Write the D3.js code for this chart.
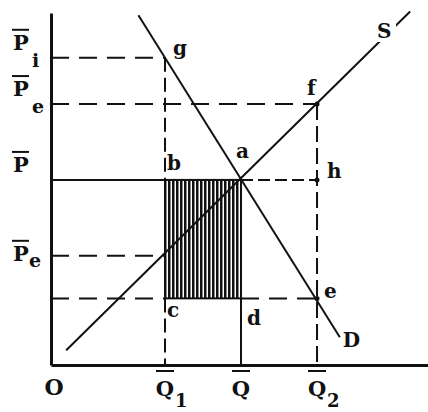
<!DOCTYPE html>
<html><head><meta charset="utf-8">
<script src="https://cdn.jsdelivr.net/npm/d3@7"></script>
<style>html,body{margin:0;padding:0;background:#fff;}svg{display:block;}</style>
</head><body>
<script>
// ---- data (abstract units) ----
const quantities = {Q1: 3, Q: 5, Q2: 7};
const prices = {Pi: 8.3, PeHigh: 7.05, P: 5, PeLow: 2.95, Pc: 1.8};
const demandLine = [[2.3, 9.45], [7.6, 0.75]];
const supplyLine = [[0.4, 0.4], [9.45, 9.55]];
const qLabels = [{q: 0, text: "O", bar: false, sub: ""}, {q: 3, text: "Q", bar: true, sub: "1"}, {q: 5, text: "Q", bar: true, sub: ""}, {q: 7, text: "Q", bar: true, sub: "2"}];
const pLabels = [{p: 8.3, sub: "i"}, {p: 7.05, sub: "e"}, {p: 5, sub: ""}, {p: 2.95, sub: "e"}];
const pointLabels = ["g", "f", "a", "b", "h", "c", "d", "e", "D", "S"];

const W = 428, H = 412;
const x = d3.scaleLinear().domain([0, 9.92]).range([51, 428]);
const y = d3.scaleLinear().domain([0, 9.51]).range([365, 13]);

const svg = d3.select("body").append("svg").attr("width", W).attr("height", H);
const FONT = "'DejaVu Serif', serif";

const defs = svg.append("defs");
const pat = defs.append("pattern").attr("id", "hatch").attr("patternUnits", "userSpaceOnUse")
  .attr("width", 4).attr("height", 4);
pat.append("rect").attr("x", 0).attr("y", 0).attr("width", 2.5).attr("height", 4).attr("fill", "#111");

function line(x1, y1, x2, y2, dash, w) {
  return svg.append("line").attr("x1", x1).attr("y1", y1).attr("x2", x2).attr("y2", y2)
    .attr("stroke", "#111").attr("stroke-width", w || 2).attr("stroke-dasharray", dash || null);
}
const D1 = "18,10";

// shaded area
svg.append("rect").attr("x", x(quantities.Q1)).attr("y", y(prices.P))
  .attr("width", x(quantities.Q) - x(quantities.Q1)).attr("height", y(prices.Pc) - y(prices.P))
  .attr("fill", "url(#hatch)").attr("stroke", "#111").attr("stroke-width", 2);

// dashed guides
line(x(0), y(prices.Pi), x(quantities.Q1), y(prices.Pi), D1);
line(x(quantities.Q1), y(prices.Pi), x(quantities.Q1), y(prices.P), "14,6");
line(x(0), y(prices.PeHigh), x(quantities.Q2), y(prices.PeHigh), D1);
line(x(quantities.Q2), y(prices.PeHigh), x(quantities.Q2), y(0), "16,6");
line(x(0), y(prices.P), x(quantities.Q1), y(prices.P), null);
line(x(quantities.Q), y(prices.P), x(quantities.Q2), y(prices.P), "12,5");
line(x(0), y(prices.PeLow), x(quantities.Q1), y(prices.PeLow), D1);
line(x(0), y(prices.Pc), x(quantities.Q1), y(prices.Pc), D1);
line(x(quantities.Q), y(prices.Pc), x(quantities.Q2), y(prices.Pc), D1);
line(x(quantities.Q1), y(prices.Pc), x(quantities.Q1), y(0), "14,6");
line(x(quantities.Q), y(prices.Pc), x(quantities.Q), y(0), null);

// curves
const gen = d3.line().x(d => x(d[0])).y(d => y(d[1]));
svg.append("path").attr("d", gen(demandLine)).attr("stroke", "#111").attr("stroke-width", 2).attr("fill", "none");
svg.append("path").attr("d", gen(supplyLine)).attr("stroke", "#111").attr("stroke-width", 2).attr("fill", "none");

// dots
[[quantities.Q2, prices.PeHigh], [quantities.Q2, prices.P], [quantities.Q2, prices.Pc]].forEach(d => {
  svg.append("circle").attr("cx", x(d[0])).attr("cy", y(d[1])).attr("r", 2.5).attr("fill", "#111");
});

// axes
const xAxis = d3.axisBottom(x).tickValues([]).tickSize(0).tickSizeOuter(0);
const yAxis = d3.axisLeft(y).tickValues([]).tickSize(0).tickSizeOuter(0);
svg.append("g").attr("transform", `translate(0,${y(0)})`).call(xAxis).select(".domain").attr("stroke", "#111").attr("stroke-width", 3);
svg.append("g").attr("transform", `translate(${x(0)},0)`).call(yAxis).select(".domain").attr("stroke", "#111").attr("stroke-width", 3);

function txt(tx, ty, s, size, anchor) {
  return svg.append("text").attr("x", tx).attr("y", ty).text(s)
    .attr("font-family", FONT).attr("font-size", size || 21).attr("font-weight", "bold")
    .attr("fill", "#111").attr("text-anchor", anchor || "start");
}

// y labels
pLabels.forEach((d, i) => {
  const py = y(d.p);
  const low = i === 3;
  const base = low ? py + 5 : py - 8;
  txt(13, base, "P", 21);
  line(12, base - 20, 29, base - 20, null, 2);
  if (d.sub) txt(low ? 29 : 32, low ? base + 6 : base + 17, d.sub, 19);
});

// x labels
qLabels.forEach(d => {
  const qx = x(d.q);
  if (!d.bar) { txt(qx + 3, 395, d.text, 22, "middle"); return; }
  txt(qx, 396, d.text, 21, "middle");
  line(qx - 9, 371, qx + 9, 371, null, 2);
  if (d.sub) txt(qx + 10, 407, d.sub, 18);
});

// point labels
const lp = {
  g: [x(quantities.Q1) + 8, y(prices.Pi) - 3],
  f: [x(quantities.Q2) - 10, y(prices.PeHigh) - 9],
  a: [x(quantities.Q) - 5, y(prices.P) - 22],
  b: [x(quantities.Q1) + 2, y(prices.P) - 10],
  h: [x(quantities.Q2) + 10, y(prices.P) - 2],
  c: [x(quantities.Q1) + 2, y(prices.Pc) + 19],
  d: [x(quantities.Q) + 6, y(prices.Pc) + 27],
  e: [x(quantities.Q2) + 7, y(prices.Pc)],
  D: [x(7.6) + 3, y(0.75) + 10],
  S: [377, 38]
};
// white gap in the supply line behind the S label
svg.append("rect").attr("x", 375).attr("y", 20).attr("width", 21).attr("height", 22).attr("fill", "#fff");
pointLabels.forEach(k => {
  txt(lp[k][0], lp[k][1], k, 20);
});
</script>
</body></html>
